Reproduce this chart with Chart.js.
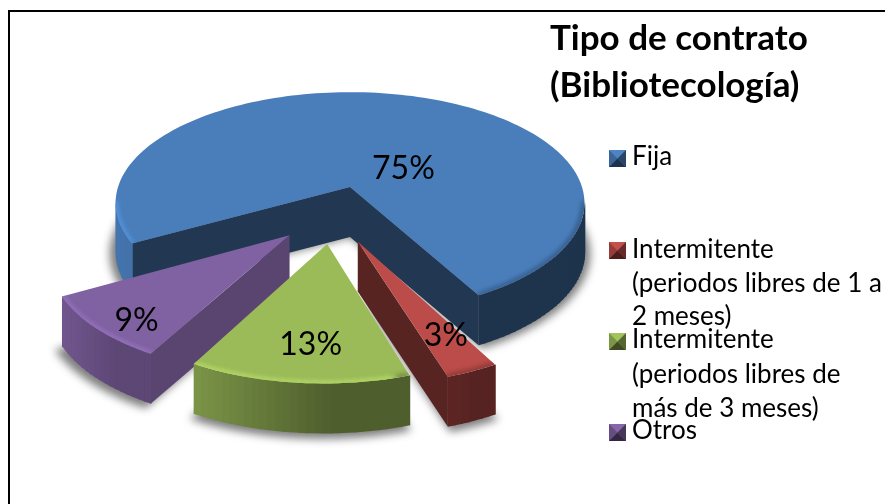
<!DOCTYPE html>
<html>
<head>
<meta charset="utf-8">
<style>
  html, body { margin: 0; padding: 0; background: #fff; overflow: hidden; }
  #frame { position: absolute; left: 8px; top: 10px; width: 1000px; height: 1000px; border: 2px solid #000; }
  #myPie { position: absolute; left: 0; top: 0; }
</style>
<script src="https://cdn.jsdelivr.net/npm/chart.js@4/dist/chart.umd.js"></script>
</head>
<body>
<div id="frame"></div>
<canvas id="myPie" width="885" height="504"></canvas>
<script>
const titleLines = ['Tipo de contrato', '(Bibliotecología)'];
const categories = [
    ['Fija'],
    ['Intermitente', '(periodos libres de 1 a', '2 meses)'],
    ['Intermitente', '(periodos libres de', 'más de 3 meses)'],
    ['Otros']
];
const values = [75, 3, 13, 9];
const colors = ['#4a7ebb', '#bb4c49', '#9bbb59', '#8062a2'];

// per slice styling, same order as values
const sideBright = [[0.93, 0.41], [0.5, 0.46], [0.8, 0.5], [0.88, 0.72]]; // arc side, left end and right end
const wallShade = [0.44, 0.47, 0.6, 0.7]; // flat cut walls
const sliceScale = [1, 0.98, 0.95, 0.96]; // exploded pieces look a bit smaller
const labelDist = [0.3, 0.7, 0.7, 0.8];
const labelNudge = [[35, 12], [10, 6], [4, 3], [5, 9]];
const legendMarkTop = [150, 242, 333, 424];
const legendBase = [[165], [258, 292, 325], [348, 383, 417], [439]];

// fake 3d view: plane point (u, v) in radius units -> screen
const view = { cx: 350, cy: 187, a: 232, b: 108.4, p: 0.143, depth: 50 };

function project(u, v) {
    const w = 1 - view.p * v;
    return [view.cx + view.a * u / w, view.cy + view.b * v / w];
}

function shade(hex, f) {
    const n = parseInt(hex.slice(1), 16);
    const r = Math.round((n >> 16) * f), g = Math.round(((n >> 8) & 255) * f), b = Math.round((n & 255) * f);
    return `rgb(${Math.min(r, 255)}, ${Math.min(g, 255)}, ${Math.min(b, 255)})`;
}

function tracePoly(ctx, pts) {
    ctx.moveTo(pts[0][0], pts[0][1]);
    for (let i = 1; i < pts.length; i++) ctx.lineTo(pts[i][0], pts[i][1]);
    ctx.closePath();
}

// turn the arc elements of the library into screen outlines
function sliceOutlines(arcs) {
    const R = arcs[0].outerRadius;
    const mid0 = (arcs[0].startAngle + arcs[0].endAngle) / 2;
    const e0 = arcs[0].options.offset / R;
    const base = [e0 * Math.cos(mid0), e0 * Math.sin(mid0)];
    return arcs.map(function (arc, idx) {
        const mid = (arc.startAngle + arc.endAngle) / 2;
        const e = arc.options.offset / R;
        const ox = e * Math.cos(mid) - base[0], oy = e * Math.sin(mid) - base[1];
        const steps = Math.max(4, Math.ceil((arc.endAngle - arc.startAngle) / 0.03));
        const pts = [project(ox, oy)];
        const rr = arc.outerRadius / R * sliceScale[idx];
        for (let i = 0; i <= steps; i++) {
            const t = arc.startAngle + (arc.endAngle - arc.startAngle) * i / steps;
            pts.push(project(ox + rr * Math.cos(t), oy + rr * Math.sin(t)));
        }
        return { pts: pts, ox: ox, oy: oy, mid: mid };
    });
}

const pie3d = {
    id: 'pie3d',
    beforeDatasetsDraw(chart) {
        const ctx = chart.ctx;
        const arcs = chart.getDatasetMeta(0).data;
        const slices = sliceOutlines(arcs);
        const d = view.depth;

        // soft shadow under the bottoms
        ctx.save();
        ctx.filter = 'blur(4px)';
        ctx.fillStyle = 'rgba(40, 40, 40, 0.6)';
        slices.forEach(function (s) {
            const low = s.pts.map(p => [350 + (p[0] - 350) * 1.025, 215 + (p[1] + d - 215) * 1.025]);
            ctx.beginPath();
            tracePoly(ctx, low);
            ctx.fill();
        });
        ctx.restore();

        // back to front: blue, purple, red, green
        [0, 3, 1, 2].forEach(function (i) {
            const s = slices[i], pts = s.pts, col = colors[i];
            const n = pts.length;
            const xs = pts.slice(1).map(p => p[0]);
            const xMin = Math.min(...xs), xMax = Math.max(...xs);
            for (let k = 0; k < n; k++) {
                const a = pts[k], b = pts[(k + 1) % n];
                if (b[0] - a[0] >= 0) continue;
                const isWall = k === 0 || k === n - 1;
                const t = Math.min(1, (a[0] - xMin) / (xMax - xMin) * 1.5);
                const f = isWall ? wallShade[i] : sideBright[i][0] + (sideBright[i][1] - sideBright[i][0]) * t;
                ctx.fillStyle = shade(col, f);
                // a little overlap on the right so no seams show between the strips
                const ext = isWall ? 0 : 0.8;
                ctx.beginPath();
                tracePoly(ctx, [[a[0] + ext, a[1] + d], [b[0], b[1] + d], b, [a[0] + ext, a[1]]]);
                ctx.fill();
            }
            // top face
            ctx.fillStyle = col;
            ctx.beginPath();
            tracePoly(ctx, pts);
            ctx.fill();

            // bevel along the outer rim, lighter on the left and darker on the right
            ctx.save();
            ctx.beginPath();
            tracePoly(ctx, pts);
            ctx.clip();
            ctx.filter = 'blur(2px)';
            ctx.lineWidth = 5;
            ctx.lineCap = 'round';
            for (let k = 1; k < n - 1; k++) {
                const a = pts[k], b = pts[k + 1];
                const dx = b[0] - a[0], dy = b[1] - a[1];
                if (dx >= 0) continue;
                const nx = dy / Math.hypot(dx, dy);
                ctx.strokeStyle = nx < 0.15 ? shade(col, 1.14) : shade(col, 0.78);
                ctx.beginPath();
                ctx.moveTo(a[0], a[1]);
                ctx.lineTo(b[0], b[1]);
                ctx.stroke();
            }
            ctx.restore();
        });

        // percent labels
        const total = values.reduce((x, y) => x + y, 0);
        ctx.fillStyle = '#000';
        ctx.font = '32px Lato';
        ctx.textAlign = 'center';
        ctx.textBaseline = 'middle';
        slices.forEach(function (s, i) {
            const t = labelDist[i];
            const p = project(s.ox + t * Math.cos(s.mid), s.oy + t * Math.sin(s.mid));
            ctx.fillText(Math.round(values[i] / total * 100) + '%', p[0] + labelNudge[i][0], p[1] + labelNudge[i][1]);
        });
        return false;
    },
    afterDraw(chart) {
        const ctx = chart.ctx;
        ctx.save();
        ctx.fillStyle = '#000';
        ctx.textAlign = 'left';
        ctx.textBaseline = 'alphabetic';

        ctx.font = 'bold 35px Lato';
        ctx.fillText(titleLines[0], 550, 50);
        ctx.fillText(titleLines[1], 550, 97);

        ctx.font = '26px Lato';
        categories.forEach(function (lines, i) {
            const x = 609, y = legendMarkTop[i], s = 17;
            ctx.fillStyle = shade(colors[i], 1.05);
            ctx.fillRect(x, y, s, s);
            ctx.fillStyle = shade(colors[i], 0.55);
            ctx.beginPath();
            tracePoly(ctx, [[x + s, y], [x + s, y + s], [x + s / 2, y + s / 2]]);
            ctx.fill();
            ctx.fillStyle = shade(colors[i], 0.8);
            ctx.beginPath();
            tracePoly(ctx, [[x, y], [x, y + s], [x + s / 2, y + s / 2]]);
            ctx.fill();
            ctx.fillStyle = shade(colors[i], 0.4);
            ctx.beginPath();
            tracePoly(ctx, [[x, y + s], [x + s, y + s], [x + s / 2, y + s / 2]]);
            ctx.fill();
            ctx.fillStyle = '#000';
            lines.forEach(function (line, k) {
                ctx.fillText(line, 632, legendBase[i][k]);
            });
        });
        ctx.restore();
    }
};

document.addEventListener('DOMContentLoaded', function () {
    const ctx = document.getElementById('myPie').getContext('2d');
    new Chart(ctx, {
        type: 'pie',
        data: {
            labels: categories.map(c => c.join(' ')),
            datasets: [{
                data: values,
                backgroundColor: colors,
                offset: 60,
                radius: 240,
                borderWidth: 0
            }]
        },
        options: {
            responsive: false,
            animation: false,
            rotation: 241,
            plugins: {
                legend: { display: false },
                tooltip: { enabled: false }
            }
        },
        plugins: [pie3d]
    });
});
</script>
</body>
</html>
